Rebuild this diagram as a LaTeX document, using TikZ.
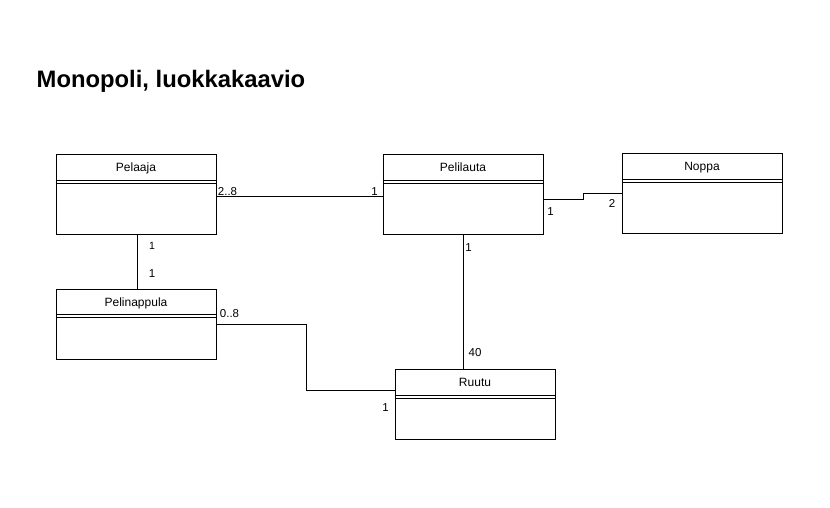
\documentclass[tikz,border=0pt]{standalone}
\usepackage{fontspec}
\setmainfont{Liberation Sans}
\tikzset{
  klass/.style={draw, line width=1pt, minimum width=160pt, minimum height=80pt, inner sep=0pt},
  klassname/.style={anchor=base, inner sep=0pt, font=\fontsize{12}{14}\selectfont},
  mult/.style={anchor=center, inner sep=0pt, font=\fontsize{11.5}{13}\selectfont},
  assoc/.style={line width=1pt}
}
\begin{document}
\begin{tikzpicture}[x=1pt, y=-1pt]
        \fill[white] (0,0) rectangle (830,507);
        \useasboundingbox (0,0) rectangle (830,507);
        % title
        \node[anchor=base west, inner sep=0pt, font=\bfseries\fontsize{23.8}{28}\selectfont] (title) at (36.5,87) {Monopoli, luokkakaavio};
        % classes
        \node[klass] (pelaaja) at (136,194) {};
        \node[klassname] (pelaajaname) at ([yshift=-17.5pt]pelaaja.north) {Pelaaja};
        \draw ([yshift=-27pt]pelaaja.north west) -- ([yshift=-27pt]pelaaja.north east);
        \draw ([yshift=-30pt]pelaaja.north west) -- ([yshift=-30pt]pelaaja.north east);
        \node[klass] (pelilauta) at (463,194) {};
        \node[klassname] (pelilautaname) at ([yshift=-17.5pt]pelilauta.north) {Pelilauta};
        \draw ([yshift=-27pt]pelilauta.north west) -- ([yshift=-27pt]pelilauta.north east);
        \draw ([yshift=-30pt]pelilauta.north west) -- ([yshift=-30pt]pelilauta.north east);
        \node[klass] (noppa) at (702,193) {};
        \node[klassname] (noppaname) at ([yshift=-17.5pt]noppa.north) {Noppa};
        \draw ([yshift=-27pt]noppa.north west) -- ([yshift=-27pt]noppa.north east);
        \draw ([yshift=-30pt]noppa.north west) -- ([yshift=-30pt]noppa.north east);
        \node[klass, minimum height=70pt] (pelinappula) at (136,324) {};
        \node[klassname] (pelinappulaname) at ([yshift=-17.5pt]pelinappula.north) {Pelinappula};
        \draw ([yshift=-26pt]pelinappula.north west) -- ([yshift=-26pt]pelinappula.north east);
        \draw ([yshift=-29pt]pelinappula.north west) -- ([yshift=-29pt]pelinappula.north east);
        \node[klass, minimum height=70pt] (ruutu) at (475,404) {};
        \node[klassname] (ruutuname) at ([yshift=-17.5pt]ruutu.north) {Ruutu};
        \draw ([yshift=-27pt]ruutu.north west) -- ([yshift=-27pt]ruutu.north east);
        \draw ([yshift=-30pt]ruutu.north west) -- ([yshift=-30pt]ruutu.north east);
        % associations
        \draw[assoc] ([yshift=-2pt]pelaaja.east) -- ([yshift=-2pt]pelaaja.east -| pelilauta.west);
        \draw[assoc] (pelaaja.south -| 137,0) -- (pelinappula.north -| 137,0);
        \draw[assoc] ([yshift=-5pt]pelilauta.east) -- ++(40,0) |- (noppa.west);
        \draw[assoc] (pelilauta.south) -- (pelilauta.south |- ruutu.north);
        \draw[assoc] (pelinappula.east) -- ++(90,0) |- ([yshift=14pt]ruutu.west);
        % multiplicities
        \node[mult] (m1) at (227.5,191.5) {2..8};
        \node[mult] (m2) at (374.5,191.5) {1};
        \node[mult, font=\fontsize{10.5}{12}\selectfont] (m3) at (152,246) {1};
        \node[mult] (m4) at (152,274) {1};
        \node[mult] (m5) at (229.5,314) {0..8};
        \node[mult] (m6) at (550.5,212) {1};
        \node[mult] (m7) at (612,203) {2};
        \node[mult] (m8) at (468.5,248) {1};
        \node[mult] (m9) at (475,353) {40};
        \node[mult] (m10) at (385.5,408) {1};
\end{tikzpicture}
\end{document}
